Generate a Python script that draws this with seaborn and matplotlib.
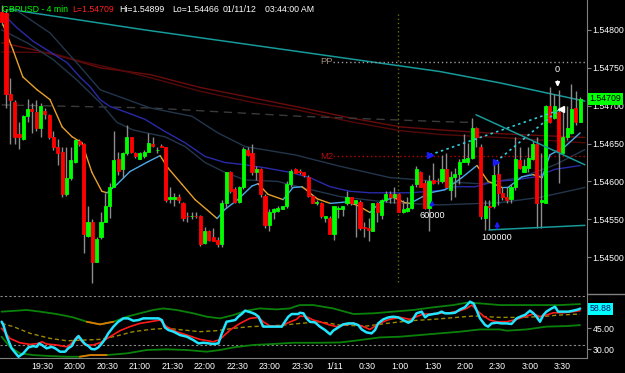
import numpy as np
import pandas as pd
import matplotlib
matplotlib.use("Agg")
import matplotlib.pyplot as plt
import seaborn as sns
from matplotlib.lines import Line2D

# ---------------- data ----------------
open_ = [1.54823, 1.54822, 1.54716, 1.54705, 1.54662, 1.54656, 1.54687, 1.54695, 1.54692, 1.54671,
         1.54693, 1.54688, 1.54659, 1.54646, 1.54639, 1.54583, 1.54605, 1.54625, 1.54654, 1.54649,
         1.54528, 1.54547, 1.54494, 1.54526, 1.54547, 1.54567, 1.54593, 1.54630, 1.54616, 1.54637,
         1.54658, 1.54638, 1.54630, 1.54633, 1.54639, 1.54650, 1.54641, 1.54647, 1.54645, 1.54577,
         1.54577, 1.54579, 1.54572, 1.54555, 1.54554, 1.54555, 1.54555, 1.54519, 1.54534, 1.54527,
         1.54523, 1.54517, 1.54572, 1.54613, 1.54590, 1.54573, 1.54592, 1.54642, 1.54637, 1.54612,
         1.54617, 1.54581, 1.54543, 1.54560, 1.54561, 1.54564, 1.54567, 1.54596, 1.54616, 1.54614,
         1.54612, 1.54606, 1.54581, 1.54571, 1.54571, 1.54552, 1.54552, 1.54530, 1.54563, 1.54564,
         1.54572, 1.54579, 1.54572, 1.54573, 1.54540, 1.54539, 1.54535, 1.54572, 1.54556, 1.54575,
         1.54583, 1.54580, 1.54584, 1.54559, 1.54561, 1.54565, 1.54596, 1.54612, 1.54598, 1.54565,
         1.54602, 1.54601, 1.54600, 1.54616, 1.54589, 1.54606, 1.54610, 1.54626, 1.54625, 1.54631,
         1.54670, 1.54646, 1.54552, 1.54568, 1.54567, 1.54610, 1.54585, 1.54580, 1.54577, 1.54592,
         1.54628, 1.54613, 1.54618, 1.54630, 1.54649, 1.54573, 1.54572, 1.54699, 1.54684, 1.54692,
         1.54638, 1.54659, 1.54664, 1.54697, 1.54679]
high = [1.54833, 1.54827, 1.54736, 1.54708, 1.54678, 1.54688, 1.54709, 1.54704, 1.54708, 1.54703,
        1.54697, 1.54689, 1.54666, 1.54656, 1.54645, 1.54645, 1.54646, 1.54656, 1.54656, 1.54651,
        1.54567, 1.54550, 1.54526, 1.54559, 1.54585, 1.54598, 1.54666, 1.54639, 1.54639, 1.54675,
        1.54659, 1.54639, 1.54639, 1.54641, 1.54664, 1.54659, 1.54646, 1.54649, 1.54646, 1.54592,
        1.54585, 1.54583, 1.54573, 1.54559, 1.54559, 1.54559, 1.54556, 1.54540, 1.54536, 1.54539,
        1.54526, 1.54576, 1.54613, 1.54614, 1.54593, 1.54594, 1.54645, 1.54646, 1.54650, 1.54620,
        1.54618, 1.54583, 1.54563, 1.54565, 1.54567, 1.54568, 1.54600, 1.54617, 1.54618, 1.54617,
        1.54613, 1.54609, 1.54583, 1.54575, 1.54573, 1.54555, 1.54554, 1.54567, 1.54567, 1.54567,
        1.54587, 1.54580, 1.54576, 1.54576, 1.54546, 1.54552, 1.54572, 1.54573, 1.54577, 1.54587,
        1.54587, 1.54592, 1.54585, 1.54576, 1.54579, 1.54596, 1.54620, 1.54614, 1.54602, 1.54609,
        1.54624, 1.54605, 1.54635, 1.54638, 1.54614, 1.54618, 1.54630, 1.54662, 1.54651, 1.54684,
        1.54672, 1.54649, 1.54576, 1.54576, 1.54625, 1.54625, 1.54592, 1.54592, 1.54596, 1.54659,
        1.54646, 1.54630, 1.54646, 1.54653, 1.54659, 1.54638, 1.54701, 1.54724, 1.54715, 1.54721,
        1.54699, 1.54700, 1.54728, 1.54720, 1.54712]
low = [1.54807, 1.54697, 1.54649, 1.54649, 1.54643, 1.54655, 1.54679, 1.54664, 1.54666, 1.54659,
       1.54682, 1.54656, 1.54642, 1.54622, 1.54580, 1.54581, 1.54602, 1.54624, 1.54647, 1.54506,
       1.54527, 1.54466, 1.54493, 1.54524, 1.54547, 1.54552, 1.54592, 1.54609, 1.54605, 1.54635,
       1.54638, 1.54631, 1.54630, 1.54631, 1.54639, 1.54645, 1.54638, 1.54645, 1.54573, 1.54572,
       1.54567, 1.54572, 1.54548, 1.54547, 1.54550, 1.54552, 1.54515, 1.54517, 1.54522, 1.54521,
       1.54513, 1.54514, 1.54565, 1.54585, 1.54572, 1.54572, 1.54590, 1.54634, 1.54609, 1.54602,
       1.54580, 1.54538, 1.54535, 1.54550, 1.54559, 1.54563, 1.54565, 1.54593, 1.54611, 1.54610,
       1.54606, 1.54580, 1.54571, 1.54569, 1.54552, 1.54546, 1.54530, 1.54523, 1.54552, 1.54554,
       1.54569, 1.54569, 1.54527, 1.54536, 1.54527, 1.54522, 1.54534, 1.54547, 1.54550, 1.54573,
       1.54571, 1.54571, 1.54559, 1.54558, 1.54559, 1.54564, 1.54593, 1.54592, 1.54564, 1.54534,
       1.54597, 1.54597, 1.54598, 1.54592, 1.54576, 1.54580, 1.54596, 1.54625, 1.54622, 1.54629,
       1.54646, 1.54550, 1.54536, 1.54536, 1.54565, 1.54569, 1.54576, 1.54572, 1.54571, 1.54589,
       1.54616, 1.54612, 1.54612, 1.54628, 1.54539, 1.54539, 1.54572, 1.54677, 1.54682, 1.54598,
       1.54638, 1.54655, 1.54662, 1.54675, 1.54678]
close = [1.54811, 1.54715, 1.54707, 1.54659, 1.54658, 1.54687, 1.54696, 1.54693, 1.54671, 1.54700,
         1.54689, 1.54658, 1.54645, 1.54638, 1.54583, 1.54605, 1.54628, 1.54655, 1.54649, 1.54530,
         1.54547, 1.54493, 1.54524, 1.54547, 1.54568, 1.54592, 1.54628, 1.54614, 1.54638, 1.54658,
         1.54639, 1.54633, 1.54637, 1.54639, 1.54651, 1.54647, 1.54642, 1.54646, 1.54575, 1.54580,
         1.54579, 1.54575, 1.54552, 1.54554, 1.54555, 1.54554, 1.54518, 1.54535, 1.54523, 1.54522,
         1.54518, 1.54572, 1.54613, 1.54587, 1.54573, 1.54593, 1.54643, 1.54635, 1.54612, 1.54616,
         1.54583, 1.54542, 1.54559, 1.54563, 1.54565, 1.54567, 1.54596, 1.54614, 1.54611, 1.54612,
         1.54608, 1.54581, 1.54572, 1.54573, 1.54554, 1.54555, 1.54531, 1.54567, 1.54565, 1.54567,
         1.54580, 1.54571, 1.54575, 1.54539, 1.54538, 1.54536, 1.54571, 1.54559, 1.54575, 1.54583,
         1.54580, 1.54583, 1.54560, 1.54563, 1.54565, 1.54594, 1.54617, 1.54593, 1.54565, 1.54601,
         1.54598, 1.54600, 1.54617, 1.54593, 1.54606, 1.54610, 1.54626, 1.54630, 1.54631, 1.54670,
         1.54659, 1.54554, 1.54567, 1.54566, 1.54609, 1.54585, 1.54580, 1.54576, 1.54592, 1.54630,
         1.54618, 1.54620, 1.54631, 1.54650, 1.54572, 1.54576, 1.54699, 1.54678, 1.54699, 1.54639,
         1.54659, 1.54670, 1.54696, 1.54678, 1.54709]

# moving averages / overlays (bar index, price)
fast_x = [0.3, 2.6, 4.9, 8.2, 11.2, 14.0, 16.3, 18.6, 20.9, 23.2, 24.4, 26.7, 29.7, 33.9, 36.7, 38.5, 41.8,
          44.8, 48.3, 49.9, 51.7, 54.7, 58.0, 59.4, 61.7, 65.2, 67.5, 69.6, 73.1, 76.1, 80.0, 82.6, 85.3,
          87.6, 90.7, 93.4, 94.6, 99.2, 102.7, 106.6, 110.1, 112.7, 115.9, 117.3, 120.5, 123.1, 125.2,
          127.0, 130.5, 134.0]
fast_y = [1.54807, 1.54774, 1.54738, 1.54721, 1.54708, 1.54672, 1.54659, 1.54651, 1.54612, 1.54587,
          1.54585, 1.54596, 1.54613, 1.54626, 1.54634, 1.54618, 1.54596, 1.54576, 1.54559, 1.54551,
          1.54563, 1.54576, 1.54594, 1.54597, 1.54583, 1.54576, 1.54592, 1.54593, 1.54577, 1.54571,
          1.54573, 1.54568, 1.54559, 1.54572, 1.54579, 1.54572, 1.54571, 1.54585, 1.54589, 1.54605,
          1.54621, 1.54600, 1.54592, 1.54592, 1.54606, 1.54609, 1.54605, 1.54635, 1.54646, 1.54664]
mid_ma_x = [1.2, 3.5, 7.3, 11.2, 15.1, 18.1, 20.5, 22.8, 25.1, 29.0, 33.2, 37.8, 42.5, 47.1, 51.7, 56.4,
            61.0, 66.8, 71.4, 76.1, 80.7, 85.3, 90.0, 94.6, 101.6, 105.0, 109.7, 114.3, 118.9, 123.6,
            128.2, 134.0]
mid_ma_y = [1.54816, 1.54803, 1.54785, 1.54771, 1.54757, 1.54738, 1.54725, 1.54708, 1.54699, 1.54691,
            1.54682, 1.54666, 1.54651, 1.54633, 1.54625, 1.54622, 1.54618, 1.54612, 1.54605, 1.54593,
            1.54587, 1.54585, 1.54585, 1.54585, 1.54588, 1.54593, 1.54593, 1.54600, 1.54602, 1.54606,
            1.54616, 1.54621]
env_up_x = [2.6, 11.2, 18.1, 22.8, 34.4, 44.1, 50.1, 56.4, 68.0, 78.4, 90.0, 101.6, 110.8, 120.1, 128.2, 135.1]
env_up_y = [1.54829, 1.54796, 1.54752, 1.54721, 1.54697, 1.54686, 1.54664, 1.54646, 1.54635, 1.54620,
            1.54605, 1.54600, 1.54597, 1.54605, 1.54622, 1.54642]
env_lo_x = [0, 5.9, 11.9, 17.4, 22.8, 26.7, 30.4, 34.4, 37.8, 42.5, 47.1, 51.7, 56.4, 64.0, 68.0, 78.4,
            90.0, 101.6, 115.5, 124.7, 135.1]
env_lo_y = [1.54800, 1.54783, 1.54761, 1.54734, 1.54704, 1.54678, 1.54668, 1.54663, 1.54659, 1.54646,
            1.54625, 1.54612, 1.54602, 1.54600, 1.54594, 1.54580, 1.54572, 1.54569, 1.54572, 1.54579,
            1.54592]
slow1_x = [0, 7.3, 15.1, 22.8, 34.4, 46.0, 57.5, 68.0, 80.7, 92.3, 101.6, 115.5, 135.1]
slow1_y = [1.54783, 1.54774, 1.54763, 1.54750, 1.54741, 1.54724, 1.54711, 1.54699, 1.54684, 1.54672,
           1.54668, 1.54663, 1.54658]
slow2_x = [0, 11.2, 18.8, 26.7, 34.4, 46.0, 57.5, 68.0, 80.7, 92.3, 101.6, 115.5, 135.1]
slow2_y = [1.54771, 1.54770, 1.54758, 1.54748, 1.54737, 1.54719, 1.54705, 1.54695, 1.54679, 1.54667,
           1.54662, 1.54658, 1.54651]
prev_x = [0, 34.4, 69.1, 101.6, 108.5]
prev_y = [1.54701, 1.54697, 1.54686, 1.54679, 1.54678]
trend_x = [1.9, 33.2, 66.8, 101.6, 115.5, 135.1]
trend_y = [1.54827, 1.54800, 1.54773, 1.54745, 1.54730, 1.54706]
tri_top_x, tri_top_y = [109.9, 135.1], [1.54688, 1.54622]
tri_bot_x, tri_bot_y = [112.9, 135.1], [1.54536, 1.54542]
dotA_x, dotA_y = [99.2, 129.6], [1.54635, 1.54695]
dotB_x, dotB_y = [114.5, 128.6], [1.54626, 1.54692]
pp_level, m2_level = 1.54758, 1.54633
session_break = 91.9
last_price = 1.54709

sig_up = [(99.7, 1.54564, 1.54579, "60000", 1.54555), (114.8, 1.54534, 1.54551, "100000", 1.54526)]
sig_dn = [(128.8, 1.54736, 1.54721, "0", 1.54748)]

# oscillator panel
rsi_x = [0, 0.4, 1.2, 2.3, 3.9, 5.0, 6.2, 7.3, 8.1, 8.7, 9.3, 10.4, 11.6, 12.4, 13.5, 14.7, 15.4, 16.2,
         17.0, 17.8, 18.5, 19.3, 20.1, 20.8, 21.6, 22.4, 23.2, 23.9, 24.7, 25.9, 27.0, 28.2, 29.3, 30.5,
         31.7, 32.8, 34.0, 35.1, 36.3, 37.1, 37.8, 38.6, 39.8, 41.3, 42.9, 44.4, 45.6, 46.7, 47.9, 49.0,
         50.2, 51.0, 52.1, 53.3, 54.1, 54.8, 55.6, 56.4, 57.1, 57.9, 58.7, 59.5, 60.6, 61.4, 62.5, 63.7,
         64.9, 65.6, 66.4, 67.2, 67.9, 68.7,
         69.1, 69.9, 70.6, 71.4, 72.6, 73.7, 74.9, 76.1, 76.8, 78.0, 79.1, 80.3, 81.5, 82.6, 83.4, 84.5,
         85.7, 86.5, 87.2, 88.4, 89.6, 90.7, 91.9, 93.0, 94.2, 95.0, 96.1, 97.3, 98.1, 98.8, 100.0, 101.1,
         101.9, 102.7, 103.8, 105.0, 106.2, 107.3, 108.5, 109.3, 110.0, 110.8, 112.0, 112.7, 113.5, 114.7,
         115.8, 117.0, 118.1, 119.3, 120.5, 121.2, 122.4, 123.2, 123.9, 124.7, 125.5, 126.2, 127.4, 128.2,
         128.9, 130.1, 131.3, 132.4, 133.6, 134.0]
rsi_v = [49.5, 47.1, 38.8, 30.5, 24.5, 26.9, 31.2, 32.1, 31.6, 34.0, 32.9, 30.5, 31.6, 30.5, 28.1, 28.1,
         30.5, 32.1, 36.4, 39.3, 36.4, 33.6, 32.1, 30.0, 29.8, 31.2, 34.0, 36.9, 41.2, 46.0, 49.5, 51.9,
         51.9, 50.2, 50.7, 51.9, 51.9, 51.9, 51.9, 50.7, 45.5, 43.6, 42.4, 40.0, 38.8, 36.4, 34.0, 34.5,
         34.0, 33.6, 34.0, 41.2, 49.5, 50.2, 50.7, 53.1, 55.0, 57.4, 56.7, 56.0, 55.0, 53.1, 46.0, 46.0,
         46.0, 46.0, 46.0, 49.5, 53.1, 55.0, 55.0, 55.0,
         55.9, 55.5, 51.9, 49.5, 49.0, 46.0, 43.6, 40.5, 43.1, 45.5, 47.6, 48.3, 48.3, 47.1, 44.0, 41.9,
         41.2, 43.6, 48.3, 51.2, 52.6, 53.1, 52.6, 50.7, 48.8, 50.0, 55.5, 56.7, 52.6, 54.3, 55.0, 55.5,
         56.7, 55.5, 55.5, 55.9, 58.3, 59.8, 63.8, 62.6, 57.9, 51.9, 47.1, 46.0, 48.3, 48.8, 48.3, 48.3,
         47.9, 51.9, 53.6, 54.3, 57.4, 55.5, 53.1, 49.5, 54.3, 56.7, 59.0, 60.2, 56.7, 56.7, 56.7, 57.4,
         58.3, 58.88]
sig_x = [0, 1.9, 4.2, 6.6, 8.5, 9.3, 10.4, 12.7, 15.1, 16.2, 17.4, 18.1, 19.3, 21.2, 22.8, 25.1, 27.4,
         29.7, 32.0, 34.4, 36.7, 38.2, 40.5, 42.9, 45.9, 49.0, 50.6, 52.9, 55.2, 57.5, 59.5, 60.6, 62.2,
         64.5, 66.0, 68.3,
         69.1, 70.6, 72.2, 73.7, 76.1, 77.6, 79.1, 81.5, 83.8, 85.3, 86.9, 88.4, 89.9, 92.3, 94.6, 96.1,
         97.7, 99.2, 101.5, 103.8, 106.2, 107.7, 108.9, 110.0, 111.6, 113.1, 114.7, 117.0, 119.3, 121.6,
         123.2, 124.7, 126.2, 127.8, 130.1, 132.4, 134.0]
sig_v = [44.8, 37.6, 34.5, 33.3, 34.0, 35.2, 33.6, 32.9, 31.6, 34.0, 38.8, 36.9, 32.9, 32.9, 34.5, 38.8,
         43.1, 46.0, 48.3, 49.5, 50.7, 46.0, 42.4, 40.0, 36.9, 35.2, 36.9, 43.6, 48.3, 51.9, 52.6, 49.5,
         46.4, 46.4, 48.3, 51.2,
         53.6, 53.1, 50.7, 49.5, 47.1, 46.0, 47.1, 48.3, 46.0, 44.0, 47.1, 49.5, 51.2, 52.6, 51.2, 53.1,
         55.0, 55.0, 55.5, 55.9, 57.4, 59.0, 61.4, 57.9, 53.6, 50.7, 49.5, 49.5, 51.2, 53.6, 55.0, 53.1,
         54.3, 55.9, 55.9, 56.7, 57.4]
mid_x = [0, 2.7, 6.6, 11.2, 15.1, 18.9, 22.8, 26.6, 30.5, 34.4, 38.2, 42.1, 45.9, 49.8, 53.7, 57.5, 61.4,
         65.3, 69.1, 73.7, 78.4, 84.5, 89.2, 94.6, 100.0, 105.4, 109.3, 112.3, 115.4, 120.1, 124.7, 129.3, 134.0]
mid_v = [48.3, 46.0, 41.2, 37.6, 35.9, 36.4, 36.9, 39.3, 42.4, 44.0, 44.8, 43.6, 42.4, 43.1, 44.8, 46.0,
         46.4, 47.1, 48.3, 49.5, 47.1, 46.4, 48.3, 50.2, 51.2, 52.6, 53.6, 53.1, 52.6, 52.6, 53.1, 54.3, 55.0]
ub_x = [0, 3.5, 5.8, 8.9, 12.7, 16.6, 19.7, 22.8, 25.9, 29.0, 32.0, 35.1, 37.4, 40.5, 44.4, 47.5, 50.6,
        53.7, 56.7, 59.8, 63.7, 66.8, 68.3,
        69.1, 72.2, 76.8, 81.5, 86.1, 90.7, 95.4, 100.0, 104.6, 107.7, 110.8, 115.4, 120.1, 124.7, 129.3, 134.0]
ub_v = [56.7, 57.4, 57.9, 56.7, 55.0, 52.6, 49.5, 47.6, 49.5, 53.1, 55.5, 57.9, 59.0, 57.9, 55.5, 53.1,
        51.9, 54.3, 57.4, 59.0, 58.3, 59.0, 60.7,
        61.4, 61.4, 59.0, 55.0, 55.5, 56.7, 57.9, 59.8, 61.4, 63.1, 62.6, 61.4, 61.4, 61.4, 61.4, 62.1]
lb_x = [0, 1.9, 4.2, 7.3, 11.2, 15.1, 18.1, 20.5, 24.3, 29.0, 33.6, 38.2, 42.9, 47.5, 50.6, 53.7, 58.3,
        62.9, 67.6,
        73.7, 78.4, 83.0, 87.6, 92.3, 96.9, 101.5, 106.2, 110.8, 115.4, 117.0, 121.6, 126.2, 130.9, 134.0]
lb_v = [38.8, 31.6, 26.9, 25.7, 25.0, 24.5, 24.5, 25.7, 25.7, 26.9, 29.3, 29.8, 29.3, 28.1, 29.3, 31.2,
        32.9, 33.6, 34.5,
        34.5, 34.7, 36.4, 38.3, 38.8, 40.0, 41.2, 42.4, 44.0, 44.0, 43.1, 44.0, 46.0, 46.4, 47.1]
osc_guides = [67.9, 32.9]
osc_ticks = [30, 45]
price_ticks = [1.545, 1.5455, 1.546, 1.5465, 1.547, 1.5475, 1.548]
time_labels = ["19:30", "20:00", "20:30", "21:00", "21:30", "22:00", "22:30", "23:00", "23:30",
               "1/11", "0:30", "1:00", "1:30", "2:00", "2:30", "3:00", "3:30"]

# ---------------- style ----------------
sns.set_style("dark")
plt.rcParams["font.family"] = ["Liberation Sans", "DejaVu Sans"]
FS = 6.3
W, H = 625, 373
fig = plt.figure(figsize=(W / 100, H / 100), dpi=100, facecolor="black")
right = 587 / W
ax1 = fig.add_axes([0, 1 - 294 / H, right, 294 / H])
ax2 = fig.add_axes([0, 1 - 358 / H, right, 64 / H])
XL = (-0.39, 135.6)
for ax in (ax1, ax2):
    ax.set_facecolor("black")
    ax.grid(False)
    for s in ("top", "left"):
        ax.spines[s].set_visible(False)
    ax.spines["right"].set_color("#808080")
    ax.spines["bottom"].set_color("#808080")
    ax.yaxis.tick_right()
    ax.tick_params(axis="y", colors="#808080", labelcolor="white", labelsize=FS, length=3, width=0.8, pad=1)
    ax.set_xlim(*XL)
ax1.spines["bottom"].set_visible(False)


def line(ax, xs, ys, **kw):
    sns.lineplot(x=xs, y=ys, ax=ax, estimator=None, sort=False, **kw)


# ---------------- main panel ----------------
line(ax1, trend_x, trend_y, color="#169a9a", lw=1.1, zorder=2)
line(ax1, slow1_x, slow1_y, color="#6a0c0c", lw=1, zorder=2)
line(ax1, slow2_x, slow2_y, color="#540909", lw=1, zorder=2)
line(ax1, prev_x, prev_y, color="#3a3a3a", lw=1, linestyle=(0, (6, 4)), zorder=2)
line(ax1, env_up_x, env_up_y, color="#22364b", lw=1, zorder=2)
line(ax1, env_lo_x, env_lo_y, color="#22364b", lw=1, zorder=2)
line(ax1, mid_ma_x, mid_ma_y, color="#2a2aa8", lw=1, zorder=2)
for k in range(len(fast_x) - 1):
    col = "#4aa8e8" if fast_y[k + 1] >= fast_y[k] else "#e8a02a"
    ax1.plot(fast_x[k:k + 2], fast_y[k:k + 2], color=col, lw=1, zorder=2.5)

df = pd.DataFrame(dict(o=open_, h=high, l=low, c=close))
df["i"] = np.arange(len(df))
cols = np.where(df.c >= df.o, "#00ff00", "#ff0000")
ax1.vlines(df.i, df.l, df.h, color="#8c8c8c", lw=1, zorder=3)
ax1.bar(df.i, (df.c - df.o).abs(), bottom=np.minimum(df.o, df.c), width=0.72,
        color=cols, edgecolor=cols, linewidth=0.6, zorder=4)

# pivots and session
ax1.hlines(pp_level, 76.8, XL[1], color="#9a9a9a", lw=1, linestyle=(0, (1, 2)), zorder=2)
ax1.hlines(m2_level, 76.8, XL[1], color="#c00000", lw=1, linestyle=(0, (1, 2)), zorder=2)
ax1.text(75.3, pp_level, "PP", color="#9c8a76", fontsize=FS + 0.5, ha="center", va="center", zorder=6)
ax1.text(75.4, m2_level, "M2", color="#b01010", fontsize=FS + 0.5, ha="center", va="center", zorder=6)
ax1.plot([session_break, session_break], [1.54467, 1.54822], color="#6b6b10", lw=1,
         linestyle=(0, (1, 2)), zorder=1)

# pattern lines & signals
line(ax1, tri_top_x, tri_top_y, color="#169a9a", lw=1.1, zorder=5)
line(ax1, tri_bot_x, tri_bot_y, color="#169a9a", lw=1.1, zorder=5)
line(ax1, dotA_x, dotA_y, color="#33ccdd", lw=1.2, linestyle=(0, (1.5, 2)), zorder=5)
line(ax1, dotB_x, dotB_y, color="#33ccdd", lw=1.2, linestyle=(0, (1.5, 2)), zorder=5)
ax1.plot([dotA_x[0], dotB_x[0]], [dotA_y[0], dotB_y[0]], ">", color="#1a1aff", ms=4.5, ls="none", zorder=6)
ax1.plot([dotA_x[1]], [dotA_y[1]], "<", color="white", ms=4.5, zorder=6)
for x, y0, y1, lab, ly in sig_up:
    ax1.annotate("", xy=(x, y1), xytext=(x, y0),
                 arrowprops=dict(arrowstyle="-|>", color="#1a1aff", lw=1.2, mutation_scale=6), zorder=6)
    ax1.text(x, ly, lab, color="white", fontsize=FS + 0.3, ha="center", va="center", zorder=6)
for x, y0, y1, lab, ly in sig_dn:
    ax1.annotate("", xy=(x, y1), xytext=(x, y0),
                 arrowprops=dict(arrowstyle="-|>", color="white", lw=1.2, mutation_scale=6), zorder=6)
    ax1.text(x, ly, lab, color="white", fontsize=FS + 0.3, ha="center", va="center", zorder=6)

ax1.set_ylim(1.544514, 1.548395)
ax1.set_yticks(price_ticks)
ax1.set_yticklabels([f"{v:.5f}" for v in price_ticks])
ax1.tick_params(axis="x", bottom=False, labelbottom=False)
ax1.set_xlabel("")
ax1.set_ylabel("")
ax1.text(1.004, last_price, f"{last_price:.5f}", transform=ax1.get_yaxis_transform(),
         ha="left", va="center", fontsize=FS, color="black", zorder=10, clip_on=False,
         bbox=dict(boxstyle="square,pad=0.18", fc="#00ff00", ec="none"))

# ---------------- oscillator panel ----------------
for g in osc_guides:
    ax2.axhline(g, color="#8a8a8a", lw=0.8, linestyle=(0, (2, 2)), zorder=1)
line(ax2, ub_x, ub_v, color="#0a820a", lw=1.3, zorder=2)
line(ax2, lb_x, lb_v, color="#0a820a", lw=1.3, zorder=2)
for bx, bv, lo, hi in ((ub_x, ub_v, 19.5, 26.0), (lb_x, lb_v, 18.0, 24.5)):
    sel = [(a, b) for a, b in zip(bx, bv) if lo <= a <= hi]
    ax2.plot([a for a, _ in sel], [b for _, b in sel], color="#e07800", lw=1.3, zorder=2.2)
line(ax2, mid_x, mid_v, color="#9a8a00", lw=1, linestyle=(0, (3, 2)), zorder=2)
line(ax2, sig_x, sig_v, color="#ff1a1a", lw=1.2, zorder=3)
line(ax2, rsi_x, rsi_v, color="#22e5ff", lw=1.8, zorder=4)
ax2.set_ylim(23.6, 69.3)
ax2.set_yticks(osc_ticks)
ax2.set_yticklabels([f"{v:.2f}" for v in osc_ticks])
ax2.text(1.004, rsi_v[-1], f"{rsi_v[-1]:.2f}", transform=ax2.get_yaxis_transform(),
         ha="left", va="center", fontsize=FS, color="#101070", zorder=10, clip_on=False,
         bbox=dict(boxstyle="square,pad=0.18", fc="#00ffff", ec="none"))
ax2.set_xticks([9.45 + 7.53 * k for k in range(len(time_labels))])
ax2.set_xticklabels(time_labels)
ax2.tick_params(axis="x", length=0, pad=3, labelcolor="white", labelsize=FS)
ax2.set_xlabel("")
ax2.set_ylabel("")

fig.add_artist(Line2D([right, 1], [1 - 294 / H] * 2, color="#808080", lw=1, transform=fig.transFigure))

# ---------------- header ----------------
hy = 1 - 9 / H
for px, txt, c in ((2, "GBPUSD - 4 min", "#00ff00"), (72, "L=1.54709", "#ff2020"),
                   (119, "Hi=1.54899", "white"), (172, "Lo=1.54466", "white"),
                   (223, "01/11/12", "white"), (265, "03:44:00 AM", "white")):
    fig.text(px / W, hy, txt, color=c, fontsize=FS, ha="left", va="center")

fig.savefig("out.png", dpi=100, facecolor="black")
